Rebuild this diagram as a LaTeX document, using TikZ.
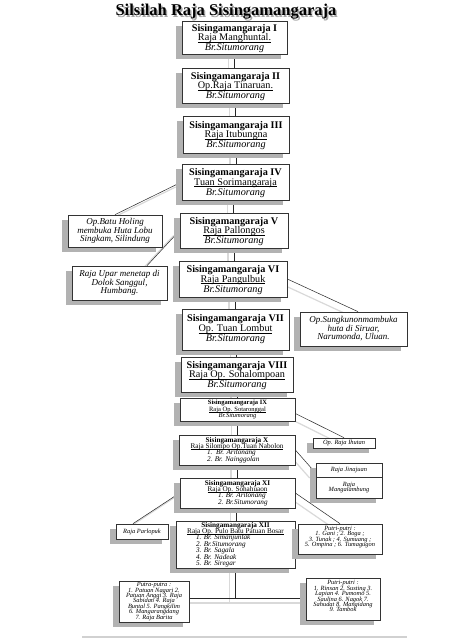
\documentclass[tikz,border=0pt]{standalone}
\usepackage{fontspec}
\setmainfont{Liberation Serif}
\usetikzlibrary{shadows,backgrounds}
\newcommand\myul[1]{\setbox0=\hbox{#1}\rlap{\rule[-0.14em]{\wd0}{0.05em}}\box0}
\newcommand\tsp{\rule{0pt}{9pt}}
\newcommand\nols{\lineskiplimit=-5pt\relax}
\begin{document}
\begin{tikzpicture}[x=1pt,y=-1pt,
  gbox/.style={draw=black!80, line width=0.7pt, fill=white, inner sep=0pt, align=center,
     drop shadow={shadow xshift=-6pt, shadow yshift=-5pt, fill=black!30, opacity=1}},
  big/.style={font=\fontsize{10.2}{9.7}\selectfont\nols},
  mid/.style={font=\fontsize{7.2}{6.4}\selectfont\nols},
  small/.style={font=\fontsize{6.5}{6.5}\selectfont\nols},
  side/.style={font=\fontsize{9}{8.5}\selectfont\itshape\nols},
  tiny/.style={font=\fontsize{6.4}{5.4}\selectfont\itshape\nols},
  conn/.style={draw=black!85, line width=0.5pt,
     preaction={draw=black!15, line width=1.2pt, transform canvas={shift={(-6,5)}}}},
]
\useasboundingbox (0,0) rectangle (448,640);
% title
\node[font=\fontsize{16.5}{18}\selectfont\bfseries, text=black!35] (titleshadow) at (227.5,13.5) {Silsilah Raja Sisingamangaraja};
\node[font=\fontsize{16.5}{18}\selectfont\bfseries] (title) at (226,12) {Silsilah Raja Sisingamangaraja};
% main chain
\node[gbox,big,minimum width=105,minimum height=33] (s1) at (234.5,37.5) {\tsp\textbf{Sisingamangaraja I}\\\myul{Raja Manghuntal.}\\\textit{Br.Situmorang}};
\node[gbox,big,minimum width=107,minimum height=35] (s2) at (235.5,85.5) {\tsp\textbf{Sisingamangaraja II}\\\myul{Op.Raja Tinaruan.}\\\textit{Br.Situmorang}};
\node[gbox,big,minimum width=106,minimum height=37] (s3) at (236,134.5) {\tsp\textbf{Sisingamangaraja III}\\\myul{Raja Itubungna}\\\textit{Br.Situmorang}};
\node[gbox,big,minimum width=107,minimum height=36] (s4) at (235.5,182) {\tsp\textbf{Sisingamangaraja IV}\\\myul{Tuan Sorimangaraja}\\\textit{Br.Situmorang}};
\node[gbox,big,minimum width=108,minimum height=35] (s5) at (234,230.5) {\tsp\textbf{Sisingamangaraja V}\\\myul{Raja Pallongos}\\\textit{Br.Situmorang}};
\node[gbox,big,minimum width=108,minimum height=36] (s6) at (233,279) {\tsp\textbf{Sisingamangaraja VI}\\\myul{Raja Pangulbuk}\\\textit{Br.Situmorang}};
\node[gbox,big,minimum width=107,minimum height=41] (s7) at (235.5,329.5) {\tsp\textbf{Sisingamangaraja VII}\\\myul{Op. Tuan Lombut}\\\textit{Br.Situmorang}\\[-5pt]\mbox{}};
\node[gbox,big,minimum width=112,minimum height=35] (s8) at (237,374.5) {\tsp\textbf{Sisingamangaraja VIII}\\\myul{Raja Op. Sohalompoan}\\\textit{Br.Situmorang}};
\node[gbox,small,minimum width=115,minimum height=23] (s9) at (237.5,409.5) {\textbf{Sisingamangaraja IX}\\\myul{Raja Op. Sotaronggal}\\\textit{Br.Situmorang}};
\node[gbox,mid,minimum width=116,minimum height=30] (s10) at (237,450) {\textbf{Sisingamangaraja X}\\\myul{Raja Silompo Op.Tuan Nabolon}\\\makebox[60pt][l]{\itshape 1.\ \ Br. Aritonang}\\\makebox[60pt][l]{\itshape 2. Br. Nainggolan}};
\node[gbox,mid,minimum width=115,minimum height=30] (s11) at (237.5,493) {\textbf{Sisingamangaraja XI}\\\myul{Raja Op. Sohahuaon}\\\makebox[39pt][l]{\itshape 1. Br. Aritonang}\\\makebox[39pt][l]{\itshape 2. Br.Situmorang}};
\node[gbox,mid,minimum width=119,minimum height=47] (s12) at (235.5,544.5) {\textbf{Sisingamangaraja XII}\\\myul{Raja Op. Pulo Batu Patuan Bosar}\\\makebox[79pt][l]{\itshape 1. Br. Simanjuntak}\\\makebox[79pt][l]{\itshape 2. Br.Situmorang}\\\makebox[79pt][l]{\itshape 3. Br. Sagala}\\\makebox[79pt][l]{\itshape 4. Br. Nadeak}\\\makebox[79pt][l]{\itshape 5. Br. Siregar}};
% side boxes
\node[gbox,side,minimum width=94,minimum height=32] (batu) at (115,231) {Op.Batu Holing\\membuka Huta Lobu\\Singkam, Silindung};
\node[gbox,side,minimum width=95,minimum height=34] (upar) at (119.5,283) {Raja Upar menetap di\\Dolok Sanggul,\\Humbang.};
\node[gbox,side,minimum width=107,minimum height=34] (sung) at (353.5,329) {Op.Sungkunonmambuka\\huta di Siruar,\\Narumonda, Uluan.};
\node[gbox,tiny,minimum width=62,minimum height=10] (ihutan) at (344,443) {Op. Raja Ihutan};
\node[gbox,tiny,minimum width=66,minimum height=14] (jin1) at (349,470) {Raja Jinajuan};
\node[gbox,tiny,minimum width=66,minimum height=21] (jin2) at (349,487.5) {Raja\\Mangalambung};
\node[gbox,tiny,minimum width=52,minimum height=15] (parl) at (142,531.5) {Raja Parlopuk};
\node[gbox,tiny,minimum width=84,minimum height=30] (putri1) at (340,539) {Putri-putri :\\1. Gani ; 2. Boga ;\\3. Tunak ; 4. Sumuang ;\\5. Ompina ; 6. Tumagugon\\\mbox{}};
\node[gbox,tiny,minimum width=70,minimum height=41] (putra) at (154,601.5) {Putra-putra :\\1. Patuan Nagari 2.\\Patuan Anggi 3. Raja\\Sabidan 4. Raja\\Buntal 5. Pangkilim\\6. Mangarangdang\\7. Raja Barita};
\node[gbox,tiny,minimum width=74,minimum height=42] (putri2) at (343,599) {Putri-putri :\\1. Rinsan 2. Susting 3.\\Lapian 4. Pumomo 5.\\Saulina 6. Nagok 7.\\Sahudat 8. Mangidang\\9. Tambok\\\mbox{}};
\coordinate (junc) at (237,598);
\coordinate (lineL) at (82,637);
\coordinate (lineR) at (407,637);
\begin{pgfonlayer}{background}
\fill[white] (0,0) rectangle (448,640);
\draw[black!18, line width=1.5pt] (lineL) -- (lineR);
\draw[conn] (s1.south) -- (s1.south |- s2.north);
\draw[conn] (s2.south) -- (s2.south |- s3.north);
\draw[conn] (s3.south) -- (s3.south |- s4.north);
\draw[conn] ([xshift=-2]s4.south) -- ([xshift=-2]s4.south |- s5.north);
\draw[conn] (s5.south) -- (s5.south |- s6.north);
\draw[conn] ([xshift=2]s6.south) -- ([xshift=2]s6.south |- s7.north);
\draw[conn] ([xshift=1]s7.south) -- ([xshift=1]s7.south |- s8.north);
\draw[conn] (s8.south) -- (s8.south |- s9.north);
\draw[conn] (s9.south) -- (s9.south |- s10.north);
\draw[conn] (s10.south) -- (s10.south |- s11.north);
\draw[conn] ([xshift=-1]s11.south) -- ([xshift=-1]s11.south |- s12.north);
\draw[conn] (s12.south |- s12.south) -- (s12.south |- junc);
\draw[conn] (putra.east |- junc) -- (putri2.west |- junc);
\draw[conn] (s4.west) -- (batu.north);
\draw[conn] (s5.west) -- ([xshift=27.5]upar.north);
\draw[conn] (s6.east) -- ([xshift=4.5]sung.north);
\draw[conn] ([yshift=-4]s9.east) -- (ihutan.north);
\draw[conn] (s10.east) -- ([yshift=-3]jin1.west);
\draw[conn] (s11.west) -- ([xshift=-9]parl.north);
\draw[conn] (s11.east) -- (putri1.north);
\end{pgfonlayer}
\end{tikzpicture}
\end{document}
